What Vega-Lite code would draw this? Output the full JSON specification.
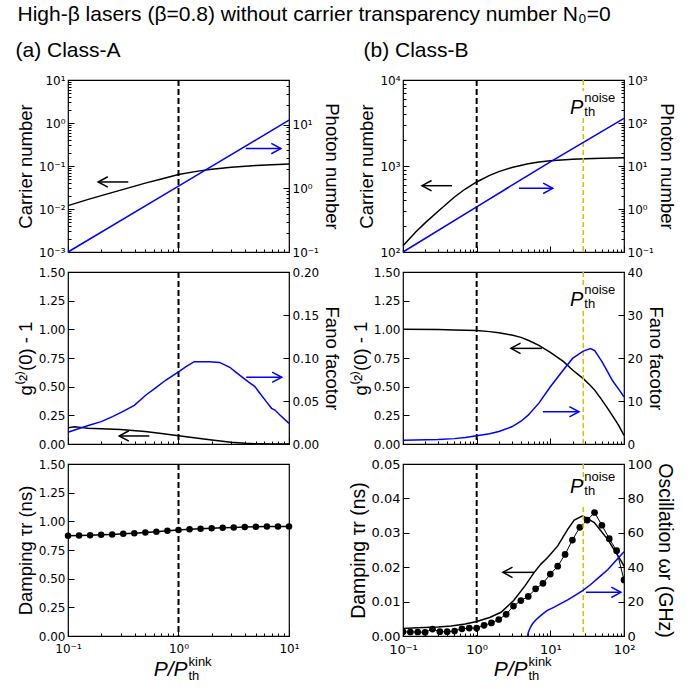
{
"$schema": "https://vega.github.io/schema/vega-lite/v6.json",
"padding": {"left": 14, "top": 4, "right": 5, "bottom": 2},
"title": {"text": "High-β lasers (β=0.8) without carrier transparency number N₀=0", "anchor": "start", "frame": "group", "dx": -50.5, "offset": 14, "fontSize": 21},
"bounds": "flush",
"columns": 2,
"spacing": {"row": 20, "column": 114},
"config": {
  "font": "Liberation Sans",
  "view": {"stroke": "#000", "strokeWidth": 1.2},
  "axis": {"domain": false, "grid": false, "labelFont": "DejaVu Sans", "labelFontSize": 12, "labelColor": "#000", "tickColor": "#000", "tickWidth": 1, "tickSize": -6, "titleFont": "Liberation Sans", "titleFontSize": 18.5, "titleFontWeight": "normal", "titleColor": "#000", "labelPadding": 9, "titlePadding": 3, "labelFlush": false, "labelOverlap": false},
  "title": {"font": "Liberation Sans", "fontSize": 21, "fontWeight": "normal", "color": "#000", "anchor": "start"},
  "text": {"font": "Liberation Sans", "color": "#000"}
},
"datasets": {
  "a_carrier": [{"x":0.1,"y":0.012},{"x":0.15,"y":0.0165},{"x":0.2,"y":0.0205},{"x":0.3,"y":0.0275},{"x":0.5,"y":0.04},{"x":0.7,"y":0.05},{"x":1,"y":0.0635},{"x":1.5,"y":0.076},{"x":2,"y":0.084},{"x":3,"y":0.094},{"x":5,"y":0.103},{"x":7,"y":0.107},{"x":10,"y":0.111}],
  "a_photon": [{"x":0.1,"y":0.1},{"x":1,"y":1.08},{"x":10,"y":11.7}],
  "a_g2": [{"x":0.1,"y":0.142},{"x":0.115,"y":0.15},{"x":0.13,"y":0.145},{"x":0.15,"y":0.138},{"x":0.2,"y":0.132},{"x":0.3,"y":0.127},{"x":0.41,"y":0.116},{"x":0.5,"y":0.108},{"x":0.7,"y":0.092},{"x":1,"y":0.072},{"x":1.5,"y":0.05},{"x":2,"y":0.035},{"x":3,"y":0.016},{"x":4,"y":0.006},{"x":5,"y":0.003},{"x":7,"y":0.001},{"x":10,"y":0.0}],
  "a_fano": [{"x":0.1,"y":0.0136},{"x":0.126,"y":0.018},{"x":0.158,"y":0.022},{"x":0.2,"y":0.026},{"x":0.253,"y":0.0318},{"x":0.312,"y":0.0376},{"x":0.398,"y":0.045},{"x":0.508,"y":0.057},{"x":0.625,"y":0.0655},{"x":0.77,"y":0.0744},{"x":1,"y":0.084},{"x":1.17,"y":0.09},{"x":1.39,"y":0.0957},{"x":1.91,"y":0.0957},{"x":2.35,"y":0.0949},{"x":2.91,"y":0.0892},{"x":3.34,"y":0.083},{"x":4.26,"y":0.0725},{"x":4.91,"y":0.0667},{"x":5.45,"y":0.059},{"x":6.26,"y":0.049},{"x":6.95,"y":0.0415},{"x":7.46,"y":0.0395},{"x":8.28,"y":0.0337},{"x":10,"y":0.024}],
  "a_damp": [{"x":0.1,"y":0.875},{"x":0.1259,"y":0.877},{"x":0.1585,"y":0.879},{"x":0.1995,"y":0.882},{"x":0.2512,"y":0.886},{"x":0.3162,"y":0.891},{"x":0.3981,"y":0.897},{"x":0.5012,"y":0.903},{"x":0.631,"y":0.91},{"x":0.7943,"y":0.917},{"x":1,"y":0.924},{"x":1.259,"y":0.93},{"x":1.585,"y":0.935},{"x":1.995,"y":0.94},{"x":2.512,"y":0.944},{"x":3.162,"y":0.947},{"x":3.981,"y":0.95},{"x":5.012,"y":0.952},{"x":6.31,"y":0.954},{"x":7.943,"y":0.955},{"x":10,"y":0.956}],
  "b_carrier": [{"x":0.1,"y":118},{"x":0.15,"y":172},{"x":0.2,"y":218},{"x":0.3,"y":298},{"x":0.5,"y":436},{"x":0.7,"y":540},{"x":1,"y":652},{"x":1.5,"y":778},{"x":2,"y":860},{"x":3,"y":962},{"x":5,"y":1060},{"x":7,"y":1110},{"x":10,"y":1150},{"x":20,"y":1200},{"x":30,"y":1215},{"x":50,"y":1230},{"x":100,"y":1245}],
  "b_photon": [{"x":0.1,"y":0.1},{"x":1,"y":1.12},{"x":10,"y":12.5},{"x":100,"y":128}],
  "b_g2": [{"x":0.1,"y":1.0},{"x":0.3,"y":0.998},{"x":0.5,"y":0.995},{"x":1,"y":0.99},{"x":1.5,"y":0.98},{"x":2,"y":0.97},{"x":3,"y":0.95},{"x":4,"y":0.93},{"x":5,"y":0.905},{"x":7,"y":0.86},{"x":10,"y":0.8},{"x":15,"y":0.72},{"x":20,"y":0.645},{"x":28,"y":0.57},{"x":35,"y":0.51},{"x":40,"y":0.47},{"x":50,"y":0.385},{"x":60,"y":0.31},{"x":70,"y":0.245},{"x":85,"y":0.16},{"x":100,"y":0.075}],
  "b_fano": [{"x":0.1,"y":0.86},{"x":0.3,"y":1.05},{"x":0.5,"y":1.25},{"x":0.7,"y":1.5},{"x":1,"y":1.9},{"x":1.5,"y":2.4},{"x":2,"y":2.9},{"x":3,"y":4.0},{"x":4,"y":5.3},{"x":5,"y":6.7},{"x":7,"y":9.5},{"x":10,"y":13.3},{"x":15,"y":17.2},{"x":20,"y":19.9},{"x":28,"y":21.6},{"x":35,"y":22.2},{"x":40,"y":21.7},{"x":50,"y":19.2},{"x":60,"y":16.8},{"x":70,"y":14.7},{"x":85,"y":12.7},{"x":100,"y":11.0}],
  "b_damp_theory": [{"x":0.1,"y":0.0022},{"x":0.158,"y":0.0024},{"x":0.3,"y":0.0026},{"x":0.45,"y":0.0029},{"x":0.7,"y":0.0035},{"x":1,"y":0.0042},{"x":1.5,"y":0.0054},{"x":2.14,"y":0.0069},{"x":3.18,"y":0.0103},{"x":4.5,"y":0.0145},{"x":6.05,"y":0.0185},{"x":7.45,"y":0.0209},{"x":9.2,"y":0.0228},{"x":12.6,"y":0.0262},{"x":17.2,"y":0.031},{"x":21.1,"y":0.0337},{"x":27.4,"y":0.0349},{"x":39.5,"y":0.033},{"x":60,"y":0.0281},{"x":90.8,"y":0.0219},{"x":100,"y":0.0203}],
  "b_damp_sim": [{"x":0.1,"y":0.0012},{"x":0.1259,"y":0.00116},{"x":0.1585,"y":0.00116},{"x":0.1995,"y":0.00107},{"x":0.2512,"y":0.002},{"x":0.3162,"y":0.00125},{"x":0.3981,"y":0.00125},{"x":0.5012,"y":0.00145},{"x":0.631,"y":0.0021},{"x":0.7943,"y":0.0023},{"x":1,"y":0.0023},{"x":1.259,"y":0.0031},{"x":1.585,"y":0.0038},{"x":1.995,"y":0.0048},{"x":2.512,"y":0.0063},{"x":3.162,"y":0.0087},{"x":3.981,"y":0.0103},{"x":5.012,"y":0.0115},{"x":6.31,"y":0.0137},{"x":7.943,"y":0.0153},{"x":10,"y":0.018},{"x":12.59,"y":0.0203},{"x":15.85,"y":0.0237},{"x":19.95,"y":0.0279},{"x":25.12,"y":0.0316},{"x":31.62,"y":0.0337},{"x":39.81,"y":0.0359},{"x":50.12,"y":0.0322},{"x":63.1,"y":0.0283},{"x":79.43,"y":0.0248},{"x":100,"y":0.0163}],
  "b_osc": [{"x":4.92,"y":0},{"x":4.97,"y":1.2},{"x":5.05,"y":2.4},{"x":5.18,"y":3.5},{"x":5.4,"y":5.2},{"x":5.74,"y":7.1},{"x":6.3,"y":9.2},{"x":7.45,"y":12.0},{"x":9,"y":14.8},{"x":11.3,"y":16.8},{"x":14,"y":19.0},{"x":17.2,"y":21.0},{"x":22,"y":23.8},{"x":27.4,"y":26.4},{"x":35,"y":29.8},{"x":48.6,"y":35.1},{"x":60,"y":38.5},{"x":73.6,"y":42.8},{"x":100,"y":49}],
  "arrows": [{"p":"a1k","x1":0.1875,"x2":0.351,"y":0.0425},{"p":"a1b","x1":4.06,"x2":8.45,"y":4.2},{"p":"a2k","x1":0.291,"x2":0.544,"y":0.07},{"p":"a2b","x1":4.1,"x2":8.6,"y":0.0776},{"p":"b1k","x1":0.181,"x2":0.463,"y":590},{"p":"b1b","x1":3.75,"x2":10.8,"y":3.03},{"p":"b2k","x1":2.92,"x2":7.69,"y":0.834},{"p":"b2b","x1":7.93,"x2":24.5,"y":7.5},{"p":"b3k","x1":2.27,"x2":5.98,"y":0.0185},{"p":"b3b","x1":30.4,"x2":90.8,"y":25.4}]
},
"concat": [
  {"width": 221, "height": 172,
   "title": {"text": "(a) Class-A", "dx": -52.5, "offset": 13, "frame": "group"},
   "resolve": {"scale": {"y": "independent"}},
   "layer": [
    {"layer": [
     {"data": {"name": "a_carrier"}, "mark": {"type": "line", "color": "#000", "strokeWidth": 1.5},
      "encoding": {
       "x": {"field": "x", "type": "quantitative", "scale": {"type": "log", "domain": [0.1, 10], "nice": false}, "axis": {"values": [0.1,0.2,0.3,0.4,0.5,0.6,0.7,0.8,0.9,1,2,3,4,5,6,7,8,9,10], "labels": false, "title": null, "tickSize": {"condition": {"test": "abs(log(datum.value)/LN10 - round(log(datum.value)/LN10)) < 0.000001", "value": -6}, "value": -3}}},
       "y": {"field": "y", "type": "quantitative", "scale": {"type": "log", "domain": [0.001, 10], "nice": false}, "axis": {"orient": "left", "title": "Carrier number", "values": [0.001,0.002,0.003,0.004,0.005,0.006,0.007,0.008,0.009,0.01,0.02,0.03,0.04,0.05,0.06,0.07,0.08,0.09,0.1,0.2,0.3,0.4,0.5,0.6,0.7,0.8,0.9,1,2,3,4,5,6,7,8,9,10], "labelExpr": "abs(log(datum.value)/LN10 - round(log(datum.value)/LN10)) < 0.000001 ? '10' + replace(replace(replace(replace(replace(replace(''+round(log(datum.value)/LN10), '-', '⁻'), '0', '⁰'), '1', '¹'), '2', '²'), '3', '³'), '4', '⁴') : ''", "tickSize": {"condition": {"test": "abs(log(datum.value)/LN10 - round(log(datum.value)/LN10)) < 0.000001", "value": -6}, "value": -3}}}}},
     {"data": {"values": [{}]}, "mark": {"type": "rule", "color": "#000", "strokeWidth": 2, "strokeDash": [6, 3]},
      "encoding": {"x": {"datum": 1, "type": "quantitative", "scale": {"type": "log", "domain": [0.1, 10], "nice": false}}}},
     {"data": {"name": "arrows"}, "transform": [{"filter": "datum.p == 'a1k'"}], "mark": {"type": "rule", "color": "#000", "strokeWidth": 1.5},
      "encoding": {"x": {"field": "x1", "type": "quantitative", "scale": {"type": "log", "domain": [0.1, 10], "nice": false}}, "x2": {"field": "x2"}, "y": {"field": "y", "type": "quantitative", "scale": {"type": "log", "domain": [0.001, 10], "nice": false}}}},
     {"data": {"name": "arrows"}, "transform": [{"filter": "datum.p == 'a1k'"}], "mark": {"type": "point", "shape": "M2.4,-1.3L0,0L2.4,1.3", "size": 64, "filled": false, "stroke": "#000", "strokeWidth": 1.5, "opacity": 1},
      "encoding": {"x": {"field": "x1", "type": "quantitative", "scale": {"type": "log", "domain": [0.1, 10], "nice": false}}, "y": {"field": "y", "type": "quantitative", "scale": {"type": "log", "domain": [0.001, 10], "nice": false}}}}
    ]},
    {"layer": [
     {"data": {"name": "a_photon"}, "mark": {"type": "line", "color": "#0000ff", "strokeWidth": 1.5},
      "encoding": {
       "x": {"field": "x", "type": "quantitative", "scale": {"type": "log", "domain": [0.1, 10], "nice": false}},
       "y": {"field": "y", "type": "quantitative", "scale": {"type": "log", "domain": [0.1, 50], "nice": false}, "axis": {"orient": "right", "title": "Photon number", "values": [0.1,0.2,0.3,0.4,0.5,0.6,0.7,0.8,0.9,1,2,3,4,5,6,7,8,9,10,20,30,40,50], "labelExpr": "abs(log(datum.value)/LN10 - round(log(datum.value)/LN10)) < 0.000001 ? '10' + replace(replace(replace(replace(replace(replace(''+round(log(datum.value)/LN10), '-', '⁻'), '0', '⁰'), '1', '¹'), '2', '²'), '3', '³'), '4', '⁴') : ''", "tickSize": {"condition": {"test": "abs(log(datum.value)/LN10 - round(log(datum.value)/LN10)) < 0.000001", "value": -6}, "value": -3}}}}},
     {"data": {"name": "arrows"}, "transform": [{"filter": "datum.p == 'a1b'"}], "mark": {"type": "rule", "color": "#0000ff", "strokeWidth": 1.5},
      "encoding": {"x": {"field": "x1", "type": "quantitative", "scale": {"type": "log", "domain": [0.1, 10], "nice": false}}, "x2": {"field": "x2"}, "y": {"field": "y", "type": "quantitative", "scale": {"type": "log", "domain": [0.1, 50], "nice": false}}}},
     {"data": {"name": "arrows"}, "transform": [{"filter": "datum.p == 'a1b'"}], "mark": {"type": "point", "shape": "M-2.4,-1.3L0,0L-2.4,1.3", "size": 64, "filled": false, "stroke": "#0000ff", "strokeWidth": 1.5, "opacity": 1},
      "encoding": {"x": {"field": "x2", "type": "quantitative", "scale": {"type": "log", "domain": [0.1, 10], "nice": false}}, "y": {"field": "y", "type": "quantitative", "scale": {"type": "log", "domain": [0.1, 50], "nice": false}}}}
    ]}
   ]},
  {"width": 221, "height": 172,
   "title": {"text": "(b) Class-B", "dx": -39.5, "offset": 13, "frame": "group"},
   "resolve": {"scale": {"y": "independent"}},
   "layer": [
    {"layer": [
     {"data": {"name": "b_carrier"}, "mark": {"type": "line", "color": "#000", "strokeWidth": 1.5},
      "encoding": {
       "x": {"field": "x", "type": "quantitative", "scale": {"type": "log", "domain": [0.1, 100], "nice": false}, "axis": {"values": [0.1,0.2,0.3,0.4,0.5,0.6,0.7,0.8,0.9,1,2,3,4,5,6,7,8,9,10,20,30,40,50,60,70,80,90,100], "labels": false, "title": null, "tickSize": {"condition": {"test": "abs(log(datum.value)/LN10 - round(log(datum.value)/LN10)) < 0.000001", "value": -6}, "value": -3}}},
       "y": {"field": "y", "type": "quantitative", "scale": {"type": "log", "domain": [100, 10000], "nice": false}, "axis": {"orient": "left", "title": "Carrier number", "values": [100,200,300,400,500,600,700,800,900,1000,2000,3000,4000,5000,6000,7000,8000,9000,10000], "labelExpr": "abs(log(datum.value)/LN10 - round(log(datum.value)/LN10)) < 0.000001 ? '10' + replace(replace(replace(replace(replace(replace(''+round(log(datum.value)/LN10), '-', '⁻'), '0', '⁰'), '1', '¹'), '2', '²'), '3', '³'), '4', '⁴') : ''", "tickSize": {"condition": {"test": "abs(log(datum.value)/LN10 - round(log(datum.value)/LN10)) < 0.000001", "value": -6}, "value": -3}}}}},
     {"data": {"values": [{}]}, "mark": {"type": "rule", "color": "#000", "strokeWidth": 2, "strokeDash": [6, 3]},
      "encoding": {"x": {"datum": 1, "type": "quantitative", "scale": {"type": "log", "domain": [0.1, 100], "nice": false}}}},
     {"data": {"values": [{}]}, "mark": {"type": "rule", "color": "#c8c800", "strokeWidth": 1.5, "strokeDash": [5, 3]},
      "encoding": {"x": {"datum": 28, "type": "quantitative", "scale": {"type": "log", "domain": [0.1, 100], "nice": false}}, "y": {"datum": 10000, "type": "quantitative", "scale": {"type": "log", "domain": [100, 10000], "nice": false}}, "y2": {"datum": 7450}}},
     {"data": {"values": [{}]}, "mark": {"type": "rule", "color": "#c8c800", "strokeWidth": 1.5, "strokeDash": [5, 3]},
      "encoding": {"x": {"datum": 28, "type": "quantitative", "scale": {"type": "log", "domain": [0.1, 100], "nice": false}}, "y": {"datum": 3614, "type": "quantitative", "scale": {"type": "log", "domain": [100, 10000], "nice": false}}, "y2": {"datum": 100}}},
     {"data": {"values": [{}]}, "mark": {"type": "text", "text": "P", "align": "right", "baseline": "alphabetic", "fontStyle": "italic", "fontSize": 20, "dx": 0},
      "encoding": {"x": {"datum": 28, "type": "quantitative", "scale": {"type": "log", "domain": [0.1, 100], "nice": false}}, "y": {"datum": 4000, "type": "quantitative", "scale": {"type": "log", "domain": [100, 10000], "nice": false}}}},
     {"data": {"values": [{}]}, "mark": {"type": "text", "text": "noise", "align": "left", "baseline": "alphabetic", "fontSize": 13, "dx": 1, "dy": -12},
      "encoding": {"x": {"datum": 28, "type": "quantitative", "scale": {"type": "log", "domain": [0.1, 100], "nice": false}}, "y": {"datum": 4000, "type": "quantitative", "scale": {"type": "log", "domain": [100, 10000], "nice": false}}}},
     {"data": {"values": [{}]}, "mark": {"type": "text", "text": "th", "align": "left", "baseline": "alphabetic", "fontSize": 13, "dx": 1, "dy": 2},
      "encoding": {"x": {"datum": 28, "type": "quantitative", "scale": {"type": "log", "domain": [0.1, 100], "nice": false}}, "y": {"datum": 4000, "type": "quantitative", "scale": {"type": "log", "domain": [100, 10000], "nice": false}}}},
     {"data": {"name": "arrows"}, "transform": [{"filter": "datum.p == 'b1k'"}], "mark": {"type": "rule", "color": "#000", "strokeWidth": 1.5},
      "encoding": {"x": {"field": "x1", "type": "quantitative", "scale": {"type": "log", "domain": [0.1, 100], "nice": false}}, "x2": {"field": "x2"}, "y": {"field": "y", "type": "quantitative", "scale": {"type": "log", "domain": [100, 10000], "nice": false}}}},
     {"data": {"name": "arrows"}, "transform": [{"filter": "datum.p == 'b1k'"}], "mark": {"type": "point", "shape": "M2.4,-1.3L0,0L2.4,1.3", "size": 64, "filled": false, "stroke": "#000", "strokeWidth": 1.5, "opacity": 1},
      "encoding": {"x": {"field": "x1", "type": "quantitative", "scale": {"type": "log", "domain": [0.1, 100], "nice": false}}, "y": {"field": "y", "type": "quantitative", "scale": {"type": "log", "domain": [100, 10000], "nice": false}}}}
    ]},
    {"layer": [
     {"data": {"name": "b_photon"}, "mark": {"type": "line", "color": "#0000ff", "strokeWidth": 1.5},
      "encoding": {
       "x": {"field": "x", "type": "quantitative", "scale": {"type": "log", "domain": [0.1, 100], "nice": false}},
       "y": {"field": "y", "type": "quantitative", "scale": {"type": "log", "domain": [0.1, 1000], "nice": false}, "axis": {"orient": "right", "title": "Photon number", "values": [0.1,0.2,0.3,0.4,0.5,0.6,0.7,0.8,0.9,1,2,3,4,5,6,7,8,9,10,20,30,40,50,60,70,80,90,100,200,300,400,500,600,700,800,900,1000], "labelExpr": "abs(log(datum.value)/LN10 - round(log(datum.value)/LN10)) < 0.000001 ? '10' + replace(replace(replace(replace(replace(replace(''+round(log(datum.value)/LN10), '-', '⁻'), '0', '⁰'), '1', '¹'), '2', '²'), '3', '³'), '4', '⁴') : ''", "tickSize": {"condition": {"test": "abs(log(datum.value)/LN10 - round(log(datum.value)/LN10)) < 0.000001", "value": -6}, "value": -3}}}}},
     {"data": {"name": "arrows"}, "transform": [{"filter": "datum.p == 'b1b'"}], "mark": {"type": "rule", "color": "#0000ff", "strokeWidth": 1.5},
      "encoding": {"x": {"field": "x1", "type": "quantitative", "scale": {"type": "log", "domain": [0.1, 100], "nice": false}}, "x2": {"field": "x2"}, "y": {"field": "y", "type": "quantitative", "scale": {"type": "log", "domain": [0.1, 1000], "nice": false}}}},
     {"data": {"name": "arrows"}, "transform": [{"filter": "datum.p == 'b1b'"}], "mark": {"type": "point", "shape": "M-2.4,-1.3L0,0L-2.4,1.3", "size": 64, "filled": false, "stroke": "#0000ff", "strokeWidth": 1.5, "opacity": 1},
      "encoding": {"x": {"field": "x2", "type": "quantitative", "scale": {"type": "log", "domain": [0.1, 100], "nice": false}}, "y": {"field": "y", "type": "quantitative", "scale": {"type": "log", "domain": [0.1, 1000], "nice": false}}}}
    ]}
   ]},
  {"width": 221, "height": 172,
   "resolve": {"scale": {"y": "independent"}},
   "layer": [
    {"layer": [
     {"data": {"name": "a_g2"}, "mark": {"type": "line", "color": "#000", "strokeWidth": 1.5},
      "encoding": {
       "x": {"field": "x", "type": "quantitative", "scale": {"type": "log", "domain": [0.1, 10], "nice": false}, "axis": {"values": [0.1,0.2,0.3,0.4,0.5,0.6,0.7,0.8,0.9,1,2,3,4,5,6,7,8,9,10], "labels": false, "title": null, "tickSize": {"condition": {"test": "abs(log(datum.value)/LN10 - round(log(datum.value)/LN10)) < 0.000001", "value": -6}, "value": -3}}},
       "y": {"field": "y", "type": "quantitative", "scale": {"domain": [0, 1.5], "nice": false}, "axis": {"orient": "left", "title": "g⁽²⁾(0) - 1", "values": [0,0.25,0.5,0.75,1,1.25,1.5], "tickCount": 20, "format": ".2f"}}}},
     {"data": {"values": [{}]}, "mark": {"type": "rule", "color": "#000", "strokeWidth": 2, "strokeDash": [6, 3]},
      "encoding": {"x": {"datum": 1, "type": "quantitative", "scale": {"type": "log", "domain": [0.1, 10], "nice": false}}}},
     {"data": {"name": "arrows"}, "transform": [{"filter": "datum.p == 'a2k'"}], "mark": {"type": "rule", "color": "#000", "strokeWidth": 1.5},
      "encoding": {"x": {"field": "x1", "type": "quantitative", "scale": {"type": "log", "domain": [0.1, 10], "nice": false}}, "x2": {"field": "x2"}, "y": {"field": "y", "type": "quantitative", "scale": {"domain": [0, 1.5], "nice": false}}}},
     {"data": {"name": "arrows"}, "transform": [{"filter": "datum.p == 'a2k'"}], "mark": {"type": "point", "shape": "M2.4,-1.3L0,0L2.4,1.3", "size": 64, "filled": false, "stroke": "#000", "strokeWidth": 1.5, "opacity": 1},
      "encoding": {"x": {"field": "x1", "type": "quantitative", "scale": {"type": "log", "domain": [0.1, 10], "nice": false}}, "y": {"field": "y", "type": "quantitative", "scale": {"domain": [0, 1.5], "nice": false}}}}
    ]},
    {"layer": [
     {"data": {"name": "a_fano"}, "mark": {"type": "line", "color": "#0000ff", "strokeWidth": 1.5},
      "encoding": {
       "x": {"field": "x", "type": "quantitative", "scale": {"type": "log", "domain": [0.1, 10], "nice": false}},
       "y": {"field": "y", "type": "quantitative", "scale": {"domain": [0, 0.2], "nice": false}, "axis": {"orient": "right", "title": "Fano facotor", "values": [0,0.05,0.1,0.15,0.2], "tickCount": 20, "format": ".2f"}}}},
     {"data": {"name": "arrows"}, "transform": [{"filter": "datum.p == 'a2b'"}], "mark": {"type": "rule", "color": "#0000ff", "strokeWidth": 1.5},
      "encoding": {"x": {"field": "x1", "type": "quantitative", "scale": {"type": "log", "domain": [0.1, 10], "nice": false}}, "x2": {"field": "x2"}, "y": {"field": "y", "type": "quantitative", "scale": {"domain": [0, 0.2], "nice": false}}}},
     {"data": {"name": "arrows"}, "transform": [{"filter": "datum.p == 'a2b'"}], "mark": {"type": "point", "shape": "M-2.4,-1.3L0,0L-2.4,1.3", "size": 64, "filled": false, "stroke": "#0000ff", "strokeWidth": 1.5, "opacity": 1},
      "encoding": {"x": {"field": "x2", "type": "quantitative", "scale": {"type": "log", "domain": [0.1, 10], "nice": false}}, "y": {"field": "y", "type": "quantitative", "scale": {"domain": [0, 0.2], "nice": false}}}}
    ]}
   ]},
  {"width": 221, "height": 172,
   "resolve": {"scale": {"y": "independent"}},
   "layer": [
    {"layer": [
     {"data": {"name": "b_g2"}, "mark": {"type": "line", "color": "#000", "strokeWidth": 1.5},
      "encoding": {
       "x": {"field": "x", "type": "quantitative", "scale": {"type": "log", "domain": [0.1, 100], "nice": false}, "axis": {"values": [0.1,0.2,0.3,0.4,0.5,0.6,0.7,0.8,0.9,1,2,3,4,5,6,7,8,9,10,20,30,40,50,60,70,80,90,100], "labels": false, "title": null, "tickSize": {"condition": {"test": "abs(log(datum.value)/LN10 - round(log(datum.value)/LN10)) < 0.000001", "value": -6}, "value": -3}}},
       "y": {"field": "y", "type": "quantitative", "scale": {"domain": [0, 1.5], "nice": false}, "axis": {"orient": "left", "title": "g⁽²⁾(0) - 1", "values": [0,0.25,0.5,0.75,1,1.25,1.5], "tickCount": 20, "format": ".2f"}}}},
     {"data": {"values": [{}]}, "mark": {"type": "rule", "color": "#000", "strokeWidth": 2, "strokeDash": [6, 3]},
      "encoding": {"x": {"datum": 1, "type": "quantitative", "scale": {"type": "log", "domain": [0.1, 100], "nice": false}}}},
     {"data": {"values": [{}]}, "mark": {"type": "rule", "color": "#c8c800", "strokeWidth": 1.5, "strokeDash": [5, 3]},
      "encoding": {"x": {"datum": 28, "type": "quantitative", "scale": {"type": "log", "domain": [0.1, 100], "nice": false}}, "y": {"datum": 1.5, "type": "quantitative", "scale": {"domain": [0, 1.5], "nice": false}}, "y2": {"datum": 1.36}}},
     {"data": {"values": [{}]}, "mark": {"type": "rule", "color": "#c8c800", "strokeWidth": 1.5, "strokeDash": [5, 3]},
      "encoding": {"x": {"datum": 28, "type": "quantitative", "scale": {"type": "log", "domain": [0.1, 100], "nice": false}}, "y": {"datum": 1.16, "type": "quantitative", "scale": {"domain": [0, 1.5], "nice": false}}, "y2": {"datum": 0}}},
     {"data": {"values": [{}]}, "mark": {"type": "text", "text": "P", "align": "right", "baseline": "alphabetic", "fontStyle": "italic", "fontSize": 20, "dx": 0},
      "encoding": {"x": {"datum": 28, "type": "quantitative", "scale": {"type": "log", "domain": [0.1, 100], "nice": false}}, "y": {"datum": 1.2, "type": "quantitative", "scale": {"domain": [0, 1.5], "nice": false}}}},
     {"data": {"values": [{}]}, "mark": {"type": "text", "text": "noise", "align": "left", "baseline": "alphabetic", "fontSize": 13, "dx": 1, "dy": -12},
      "encoding": {"x": {"datum": 28, "type": "quantitative", "scale": {"type": "log", "domain": [0.1, 100], "nice": false}}, "y": {"datum": 1.2, "type": "quantitative", "scale": {"domain": [0, 1.5], "nice": false}}}},
     {"data": {"values": [{}]}, "mark": {"type": "text", "text": "th", "align": "left", "baseline": "alphabetic", "fontSize": 13, "dx": 1, "dy": 2},
      "encoding": {"x": {"datum": 28, "type": "quantitative", "scale": {"type": "log", "domain": [0.1, 100], "nice": false}}, "y": {"datum": 1.2, "type": "quantitative", "scale": {"domain": [0, 1.5], "nice": false}}}},
     {"data": {"name": "arrows"}, "transform": [{"filter": "datum.p == 'b2k'"}], "mark": {"type": "rule", "color": "#000", "strokeWidth": 1.5},
      "encoding": {"x": {"field": "x1", "type": "quantitative", "scale": {"type": "log", "domain": [0.1, 100], "nice": false}}, "x2": {"field": "x2"}, "y": {"field": "y", "type": "quantitative", "scale": {"domain": [0, 1.5], "nice": false}}}},
     {"data": {"name": "arrows"}, "transform": [{"filter": "datum.p == 'b2k'"}], "mark": {"type": "point", "shape": "M2.4,-1.3L0,0L2.4,1.3", "size": 64, "filled": false, "stroke": "#000", "strokeWidth": 1.5, "opacity": 1},
      "encoding": {"x": {"field": "x1", "type": "quantitative", "scale": {"type": "log", "domain": [0.1, 100], "nice": false}}, "y": {"field": "y", "type": "quantitative", "scale": {"domain": [0, 1.5], "nice": false}}}}
    ]},
    {"layer": [
     {"data": {"name": "b_fano"}, "mark": {"type": "line", "color": "#0000ff", "strokeWidth": 1.5},
      "encoding": {
       "x": {"field": "x", "type": "quantitative", "scale": {"type": "log", "domain": [0.1, 100], "nice": false}},
       "y": {"field": "y", "type": "quantitative", "scale": {"domain": [0, 40], "nice": false}, "axis": {"orient": "right", "title": "Fano facotor", "values": [0,10,20,30,40], "tickCount": 20, "format": "d"}}}},
     {"data": {"name": "arrows"}, "transform": [{"filter": "datum.p == 'b2b'"}], "mark": {"type": "rule", "color": "#0000ff", "strokeWidth": 1.5},
      "encoding": {"x": {"field": "x1", "type": "quantitative", "scale": {"type": "log", "domain": [0.1, 100], "nice": false}}, "x2": {"field": "x2"}, "y": {"field": "y", "type": "quantitative", "scale": {"domain": [0, 40], "nice": false}}}},
     {"data": {"name": "arrows"}, "transform": [{"filter": "datum.p == 'b2b'"}], "mark": {"type": "point", "shape": "M-2.4,-1.3L0,0L-2.4,1.3", "size": 64, "filled": false, "stroke": "#0000ff", "strokeWidth": 1.5, "opacity": 1},
      "encoding": {"x": {"field": "x2", "type": "quantitative", "scale": {"type": "log", "domain": [0.1, 100], "nice": false}}, "y": {"field": "y", "type": "quantitative", "scale": {"domain": [0, 40], "nice": false}}}}
    ]}
   ]},
  {"width": 221, "height": 172,
   "layer": [
     {"data": {"name": "a_damp"}, "mark": {"type": "line", "color": "#000", "strokeWidth": 1.5},
      "encoding": {
       "x": {"field": "x", "type": "quantitative", "scale": {"type": "log", "domain": [0.1, 10], "nice": false}, "axis": {"values": [0.1,0.2,0.3,0.4,0.5,0.6,0.7,0.8,0.9,1,2,3,4,5,6,7,8,9,10], "title": null, "labelPadding": 13, "labelExpr": "abs(log(datum.value)/LN10 - round(log(datum.value)/LN10)) < 0.000001 ? '10' + replace(replace(replace(replace(replace(replace(''+round(log(datum.value)/LN10), '-', '⁻'), '0', '⁰'), '1', '¹'), '2', '²'), '3', '³'), '4', '⁴') : ''", "tickSize": {"condition": {"test": "abs(log(datum.value)/LN10 - round(log(datum.value)/LN10)) < 0.000001", "value": -6}, "value": -3}}},
       "y": {"field": "y", "type": "quantitative", "scale": {"domain": [0, 1.5], "nice": false}, "axis": {"orient": "left", "title": "Damping τr (ns)", "values": [0,0.25,0.5,0.75,1,1.25,1.5], "tickCount": 20, "format": ".2f"}}}},
     {"data": {"name": "a_damp"}, "mark": {"type": "circle", "color": "#000", "size": 42, "opacity": 1},
      "encoding": {"x": {"field": "x", "type": "quantitative", "scale": {"type": "log", "domain": [0.1, 10], "nice": false}}, "y": {"field": "y", "type": "quantitative", "scale": {"domain": [0, 1.5], "nice": false}}}},
     {"data": {"values": [{}]}, "mark": {"type": "rule", "color": "#000", "strokeWidth": 2, "strokeDash": [6, 3]},
      "encoding": {"x": {"datum": 1, "type": "quantitative", "scale": {"type": "log", "domain": [0.1, 10], "nice": false}}}},
     {"data": {"values": [{}]}, "mark": {"type": "text", "text": "P/P", "align": "right", "baseline": "alphabetic", "fontStyle": "italic", "fontSize": 21, "dx": 9, "dy": 40},
      "encoding": {"x": {"datum": 1, "type": "quantitative", "scale": {"type": "log", "domain": [0.1, 10], "nice": false}}, "y": {"datum": 0, "type": "quantitative", "scale": {"domain": [0, 1.5], "nice": false}}}},
     {"data": {"values": [{}]}, "mark": {"type": "text", "text": "kink", "align": "left", "baseline": "alphabetic", "fontSize": 13, "dx": 10, "dy": 30},
      "encoding": {"x": {"datum": 1, "type": "quantitative", "scale": {"type": "log", "domain": [0.1, 10], "nice": false}}, "y": {"datum": 0, "type": "quantitative", "scale": {"domain": [0, 1.5], "nice": false}}}},
     {"data": {"values": [{}]}, "mark": {"type": "text", "text": "th", "align": "left", "baseline": "alphabetic", "fontSize": 13, "dx": 10, "dy": 44},
      "encoding": {"x": {"datum": 1, "type": "quantitative", "scale": {"type": "log", "domain": [0.1, 10], "nice": false}}, "y": {"datum": 0, "type": "quantitative", "scale": {"domain": [0, 1.5], "nice": false}}}}
   ]},
  {"width": 221, "height": 172,
   "resolve": {"scale": {"y": "independent"}},
   "layer": [
    {"layer": [
     {"data": {"name": "b_damp_theory"}, "mark": {"type": "line", "color": "#000", "strokeWidth": 1.5},
      "encoding": {
       "x": {"field": "x", "type": "quantitative", "scale": {"type": "log", "domain": [0.1, 100], "nice": false}, "axis": {"values": [0.1,0.2,0.3,0.4,0.5,0.6,0.7,0.8,0.9,1,2,3,4,5,6,7,8,9,10,20,30,40,50,60,70,80,90,100], "title": null, "labelPadding": 13, "labelExpr": "abs(log(datum.value)/LN10 - round(log(datum.value)/LN10)) < 0.000001 ? '10' + replace(replace(replace(replace(replace(replace(''+round(log(datum.value)/LN10), '-', '⁻'), '0', '⁰'), '1', '¹'), '2', '²'), '3', '³'), '4', '⁴') : ''", "labelFontSize": 13, "tickSize": {"condition": {"test": "abs(log(datum.value)/LN10 - round(log(datum.value)/LN10)) < 0.000001", "value": -6}, "value": -3}}},
       "y": {"field": "y", "type": "quantitative", "scale": {"domain": [0, 0.05], "nice": false}, "axis": {"orient": "left", "title": "Damping τr (ns)", "titleFontSize": 19.5, "labelFontSize": 13, "values": [0,0.01,0.02,0.03,0.04,0.05], "tickCount": 20, "format": ".2f"}}}},
     {"data": {"name": "b_damp_sim"}, "mark": {"type": "line", "color": "#000", "strokeWidth": 1, "clip": true},
      "encoding": {"x": {"field": "x", "type": "quantitative", "scale": {"type": "log", "domain": [0.1, 100], "nice": false}}, "y": {"field": "y", "type": "quantitative", "scale": {"domain": [0, 0.05], "nice": false}}}},
     {"data": {"name": "b_damp_sim"}, "mark": {"type": "circle", "color": "#000", "size": 45, "opacity": 1, "clip": true},
      "encoding": {"x": {"field": "x", "type": "quantitative", "scale": {"type": "log", "domain": [0.1, 100], "nice": false}}, "y": {"field": "y", "type": "quantitative", "scale": {"domain": [0, 0.05], "nice": false}}}},
     {"data": {"values": [{}]}, "mark": {"type": "rule", "color": "#000", "strokeWidth": 2, "strokeDash": [6, 3]},
      "encoding": {"x": {"datum": 1, "type": "quantitative", "scale": {"type": "log", "domain": [0.1, 100], "nice": false}}}},
     {"data": {"values": [{}]}, "mark": {"type": "rule", "color": "#c8c800", "strokeWidth": 1.5, "strokeDash": [5, 3]},
      "encoding": {"x": {"datum": 28, "type": "quantitative", "scale": {"type": "log", "domain": [0.1, 100], "nice": false}}, "y": {"datum": 0.05, "type": "quantitative", "scale": {"domain": [0, 0.05], "nice": false}}, "y2": {"datum": 0.0447}}},
     {"data": {"values": [{}]}, "mark": {"type": "rule", "color": "#c8c800", "strokeWidth": 1.5, "strokeDash": [5, 3]},
      "encoding": {"x": {"datum": 28, "type": "quantitative", "scale": {"type": "log", "domain": [0.1, 100], "nice": false}}, "y": {"datum": 0.0375, "type": "quantitative", "scale": {"domain": [0, 0.05], "nice": false}}, "y2": {"datum": 0}}},
     {"data": {"values": [{}]}, "mark": {"type": "text", "text": "P", "align": "right", "baseline": "alphabetic", "fontStyle": "italic", "fontSize": 20, "dx": 0},
      "encoding": {"x": {"datum": 28, "type": "quantitative", "scale": {"type": "log", "domain": [0.1, 100], "nice": false}}, "y": {"datum": 0.0415, "type": "quantitative", "scale": {"domain": [0, 0.05], "nice": false}}}},
     {"data": {"values": [{}]}, "mark": {"type": "text", "text": "noise", "align": "left", "baseline": "alphabetic", "fontSize": 13, "dx": 1, "dy": -12},
      "encoding": {"x": {"datum": 28, "type": "quantitative", "scale": {"type": "log", "domain": [0.1, 100], "nice": false}}, "y": {"datum": 0.0415, "type": "quantitative", "scale": {"domain": [0, 0.05], "nice": false}}}},
     {"data": {"values": [{}]}, "mark": {"type": "text", "text": "th", "align": "left", "baseline": "alphabetic", "fontSize": 13, "dx": 1, "dy": 2},
      "encoding": {"x": {"datum": 28, "type": "quantitative", "scale": {"type": "log", "domain": [0.1, 100], "nice": false}}, "y": {"datum": 0.0415, "type": "quantitative", "scale": {"domain": [0, 0.05], "nice": false}}}},
     {"data": {"name": "arrows"}, "transform": [{"filter": "datum.p == 'b3k'"}], "mark": {"type": "rule", "color": "#000", "strokeWidth": 1.5},
      "encoding": {"x": {"field": "x1", "type": "quantitative", "scale": {"type": "log", "domain": [0.1, 100], "nice": false}}, "x2": {"field": "x2"}, "y": {"field": "y", "type": "quantitative", "scale": {"domain": [0, 0.05], "nice": false}}}},
     {"data": {"name": "arrows"}, "transform": [{"filter": "datum.p == 'b3k'"}], "mark": {"type": "point", "shape": "M2.4,-1.3L0,0L2.4,1.3", "size": 64, "filled": false, "stroke": "#000", "strokeWidth": 1.5, "opacity": 1},
      "encoding": {"x": {"field": "x1", "type": "quantitative", "scale": {"type": "log", "domain": [0.1, 100], "nice": false}}, "y": {"field": "y", "type": "quantitative", "scale": {"domain": [0, 0.05], "nice": false}}}},
     {"data": {"values": [{}]}, "mark": {"type": "text", "text": "P/P", "align": "right", "baseline": "alphabetic", "fontStyle": "italic", "fontSize": 21, "dx": 14, "dy": 40},
      "encoding": {"x": {"datum": 3.1623, "type": "quantitative", "scale": {"type": "log", "domain": [0.1, 100], "nice": false}}, "y": {"datum": 0, "type": "quantitative", "scale": {"domain": [0, 0.05], "nice": false}}}},
     {"data": {"values": [{}]}, "mark": {"type": "text", "text": "kink", "align": "left", "baseline": "alphabetic", "fontSize": 13, "dx": 15, "dy": 30},
      "encoding": {"x": {"datum": 3.1623, "type": "quantitative", "scale": {"type": "log", "domain": [0.1, 100], "nice": false}}, "y": {"datum": 0, "type": "quantitative", "scale": {"domain": [0, 0.05], "nice": false}}}},
     {"data": {"values": [{}]}, "mark": {"type": "text", "text": "th", "align": "left", "baseline": "alphabetic", "fontSize": 13, "dx": 15, "dy": 44},
      "encoding": {"x": {"datum": 3.1623, "type": "quantitative", "scale": {"type": "log", "domain": [0.1, 100], "nice": false}}, "y": {"datum": 0, "type": "quantitative", "scale": {"domain": [0, 0.05], "nice": false}}}}
    ]},
    {"layer": [
     {"data": {"name": "b_osc"}, "mark": {"type": "line", "color": "#0000ff", "strokeWidth": 1.5},
      "encoding": {
       "x": {"field": "x", "type": "quantitative", "scale": {"type": "log", "domain": [0.1, 100], "nice": false}},
       "y": {"field": "y", "type": "quantitative", "scale": {"domain": [0, 100], "nice": false}, "axis": {"orient": "right", "title": "Oscillation ωr (GHz)", "titleFontSize": 19.5, "labelFontSize": 13, "values": [0,20,40,60,80,100], "tickCount": 20, "format": "d"}}}},
     {"data": {"name": "arrows"}, "transform": [{"filter": "datum.p == 'b3b'"}], "mark": {"type": "rule", "color": "#0000ff", "strokeWidth": 1.5},
      "encoding": {"x": {"field": "x1", "type": "quantitative", "scale": {"type": "log", "domain": [0.1, 100], "nice": false}}, "x2": {"field": "x2"}, "y": {"field": "y", "type": "quantitative", "scale": {"domain": [0, 100], "nice": false}}}},
     {"data": {"name": "arrows"}, "transform": [{"filter": "datum.p == 'b3b'"}], "mark": {"type": "point", "shape": "M-2.4,-1.3L0,0L-2.4,1.3", "size": 64, "filled": false, "stroke": "#0000ff", "strokeWidth": 1.5, "opacity": 1},
      "encoding": {"x": {"field": "x2", "type": "quantitative", "scale": {"type": "log", "domain": [0.1, 100], "nice": false}}, "y": {"field": "y", "type": "quantitative", "scale": {"domain": [0, 100], "nice": false}}}}
    ]}
   ]}
]
}
